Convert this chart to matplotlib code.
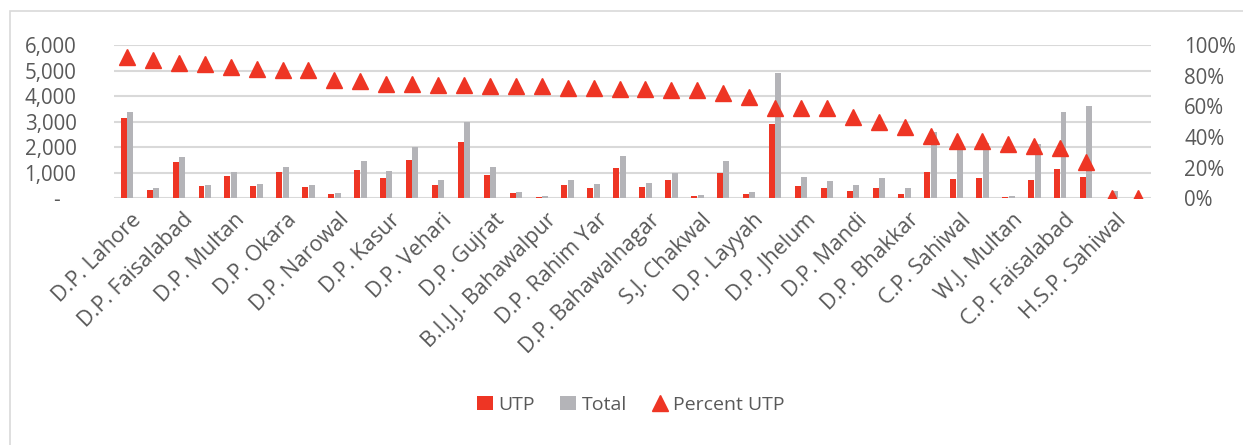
import numpy as np
import matplotlib
matplotlib.use("Agg")
import matplotlib.pyplot as plt
from matplotlib.patches import Rectangle

# shown category labels (every other category is labelled in the original)
shown_labels = ["D.P. Lahore", "D.P. Faisalabad", "D.P. Multan", "D.P. Okara",
                "D.P. Narowal", "D.P. Kasur", "D.P. Vehari", "D.P. Gujrat",
                "B.I.J.J. Bahawalpur", "D.P. Rahim Yar", "D.P. Bahawalnagar",
                "S.J. Chakwal", "D.P. Layyah", "D.P. Jhelum", "D.P. Mandi",
                "D.P. Bhakkar", "C.P. Sahiwal", "W.J. Multan", "C.P. Faisalabad",
                "H.S.P. Sahiwal"]

utp = [3131, 337, 1421, 470, 885, 470, 1030, 442, 168, 1108,
       806, 1499, 521, 2192, 912, 196, 52, 521, 391, 1186,
       442, 704, 91, 1003, 168, 2896, 493, 416, 286, 391,
       168, 1041, 755, 806, 39, 728, 1135, 834, 2, 0]
total = [3390, 391, 1617, 532, 1030, 560, 1226, 532, 219, 1448,
         1069, 2008, 704, 2975, 1226, 260, 78, 704, 560, 1644,
         611, 1003, 143, 1448, 247, 4892, 834, 677, 532, 783,
         391, 2595, 2020, 2153, 91, 2125, 3390, 3624, 286, 20]
pct_utp = [92.4, 90.1, 88.4, 87.9, 85.8, 84.6, 84.0, 83.6, 77.2, 76.2,
           74.8, 74.6, 73.6, 73.6, 73.4, 73.1, 73.1, 72.1, 71.8, 71.4,
           71.4, 70.6, 70.6, 68.9, 66.2, 59.1, 59.1, 58.7, 52.9, 49.6,
           46.8, 40.6, 37.7, 37.5, 35.7, 34.2, 33.1, 23.4, 0.5, 0.3]

RED = "#EE3524"
GREY = "#B4B4B8"
TXT = "#595959"
GRID = "#D9D9D9"
FS = 14.8

plt.rcParams['font.family'] = ['Open Sans', 'DejaVu Sans']

fig = plt.figure(figsize=(12.43, 4.45), dpi=100)
ax = fig.add_axes([114 / 1243, 1 - 198.3 / 445, (1151 - 114) / 1243, (198.3 - 45) / 445])
ax2 = ax.twinx()

x = np.arange(len(utp))
w = 0.23
ax.bar(x - 0.125, utp, width=w, color=RED, label="UTP", zorder=2)
ax.bar(x + 0.125, total, width=w, color=GREY, label="Total", zorder=2)
ax2.plot(x, pct_utp, linestyle="none", marker="^", markersize=11,
         color=RED, label="Percent UTP", zorder=3)

ax.set_xlim(-0.5, len(utp) - 0.5)
ax.set_ylim(0, 6000)
ax2.set_ylim(0, 100)

ax.set_yticks(np.arange(0, 6001, 1000))
ax.set_yticklabels(["-   "] + [f"{v:,}" for v in range(1000, 6001, 1000)])
ax2.set_yticks(np.arange(0, 101, 20))
ax2.set_yticklabels([f"{v}%" for v in range(0, 101, 20)])

ax.set_xticks(x[::2] + 0.15)
ax.set_xticklabels(shown_labels, rotation=45, ha="right", rotation_mode="anchor",
                   fontsize=15.5)

ax.set_axisbelow(True)
ax.grid(axis="y", color=GRID, linewidth=1.5)
for a in (ax, ax2):
    for s in a.spines.values():
        s.set_visible(False)
    a.tick_params(length=0, colors=TXT)
    a.tick_params(axis="y", labelsize=FS)
ax.tick_params(axis="y", pad=27)
ax2.tick_params(axis="y", pad=24)
ax.tick_params(axis="x", pad=8)

h1, l1 = ax.get_legend_handles_labels()
h2, l2 = ax2.get_legend_handles_labels()
leg = fig.legend(h1 + h2, l1 + l2, loc="center", bbox_to_anchor=(631 / 1243, 1 - 405 / 445),
                 ncol=3, frameon=False, fontsize=14, handlelength=0.8, handletextpad=0.3,
                 columnspacing=1.3, markerscale=1.0)
for t in leg.get_texts():
    t.set_color(TXT)

# chart area frame
fig.patches.append(Rectangle((10 / 1243, -0.01), 1.05, 1 - 11 / 445 + 0.01,
                             transform=fig.transFigure, fill=False,
                             edgecolor=GRID, linewidth=1.2))

fig.savefig("out.png", dpi=100)
